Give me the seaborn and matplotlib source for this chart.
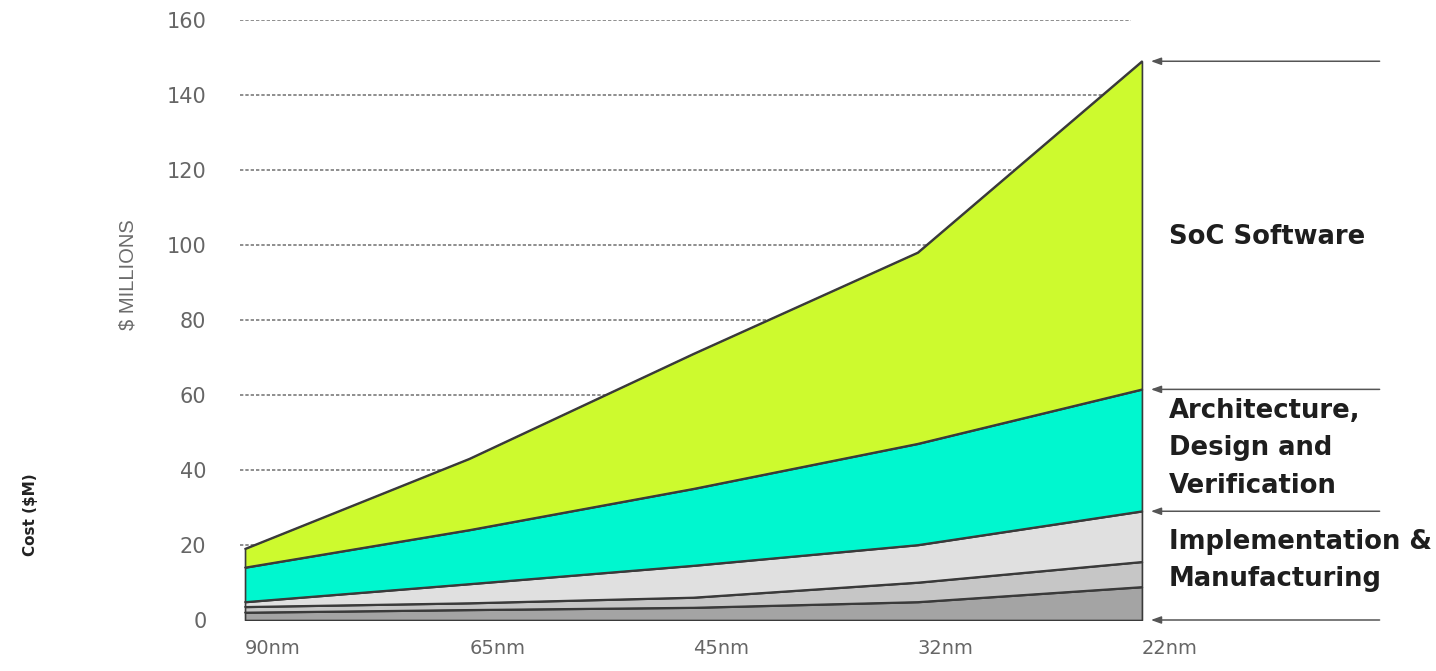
import numpy as np
import pandas as pd
import matplotlib
matplotlib.use("Agg")
import matplotlib.pyplot as plt
import seaborn as sns

# Process nodes and cost per layer ($ millions), stacked bottom to top
nodes = ["90nm", "65nm", "45nm", "32nm", "22nm"]
impl_dark = [2.0, 2.7, 3.3, 4.8, 8.8]
impl_mid = [1.5, 1.8, 2.7, 5.2, 6.7]
impl_light = [1.3, 5.1, 8.5, 10.0, 13.5]
arch_design = [9.2, 14.4, 20.5, 27.0, 32.5]
soc_software = [5.0, 19.0, 36.0, 51.0, 87.5]

y_ticks = [0, 20, 40, 60, 80, 100, 120, 140, 160]
layer_names = ["impl_dark", "impl_mid", "impl_light", "arch_design", "soc_software"]
layer_colors = ["#a4a4a4", "#c6c6c6", "#e0e0e0", "#00f7cf", "#cdfa2e"]

sns.set_theme(style="white")
plt.rcParams["font.family"] = ["DejaVu Sans"]

layers = np.array([impl_dark, impl_mid, impl_light, arch_design, soc_software])
tops = np.cumsum(layers, axis=0)
x = np.arange(len(nodes))

fig = plt.figure(figsize=(14.36, 6.71), dpi=100)
ax = fig.add_axes([230 / 1436, 51 / 671, 920 / 1436, 600 / 671])
ax.set_xlim(-0.067, 4.036)
ax.set_ylim(0, 160)

# dashed horizontal guides
ax.hlines(y_ticks[1:], -0.022, 3.95, colors="#7c7c7c",
          linestyles=(0, (2.0, 1.2)), linewidth=1.2, zorder=0)

# stacked areas
bottom = np.zeros(len(nodes))
for name, top, col in zip(layer_names, tops, layer_colors):
    ax.fill_between(x, bottom, top, facecolor=col, edgecolor="#3a3a3a",
                    linewidth=1.2, zorder=2)
    bottom = top

# boundary lines through seaborn
df = pd.DataFrame({
    "node": np.tile(x, len(layer_names)),
    "cost": tops.ravel(),
    "layer": np.repeat(layer_names, len(nodes)),
})
sns.lineplot(data=df, x="node", y="cost", hue="layer",
             palette=["#3a3a3a"] * len(layer_names), linewidth=1.3,
             legend=False, ax=ax, zorder=3)

for s in ax.spines.values():
    s.set_visible(False)
ax.grid(False)

ax.set_yticks(y_ticks)
ax.set_yticklabels([str(v) for v in y_ticks], fontsize=15, color="#666666")
ax.set_xticks(x)
ax.set_xticklabels(nodes, fontsize=14, color="#666666", ha="left")
ax.tick_params(axis="y", length=0, pad=17)
ax.tick_params(axis="x", length=0, pad=14)
ax.set_xlabel("")
ax.set_ylabel("")

fig.text(128 / 1436, 1 - 275 / 671, "$ MILLIONS", rotation=90, ha="center",
         va="center", fontsize=14.5, color="#6b6b6b", family="Liberation Sans")
fig.text(30 / 1436, 1 - 515 / 671, "Cost ($M)", rotation=90, ha="center",
         va="center", fontsize=11, color="#222222", fontweight="bold")

# bracket arrows on the right at layer boundaries
arrow_levels = [tops[-1][-1], tops[3][-1], tops[2][-1], 0]
for lv in arrow_levels:
    ax.annotate("", xy=(4.04, lv), xytext=(5.06, lv), xycoords="data",
                textcoords="data", annotation_clip=False,
                arrowprops=dict(arrowstyle="-|>,head_length=0.5,head_width=0.18",
                                color="#555555", lw=1.1, shrinkA=0, shrinkB=0))

label_kw = dict(fontsize=18.6, fontweight="bold", color="#1e1e1e",
                ha="left", va="center", linespacing=1.58, annotation_clip=False)
ax.annotate("SoC Software", xy=(4.12, 102), **label_kw)
ax.annotate("Architecture,\nDesign and\nVerification", xy=(4.12, 45.8), **label_kw)
ax.annotate("Implementation &\nManufacturing", xy=(4.12, 15.9), **label_kw)

fig.savefig("out.png", dpi=100, facecolor="white")
